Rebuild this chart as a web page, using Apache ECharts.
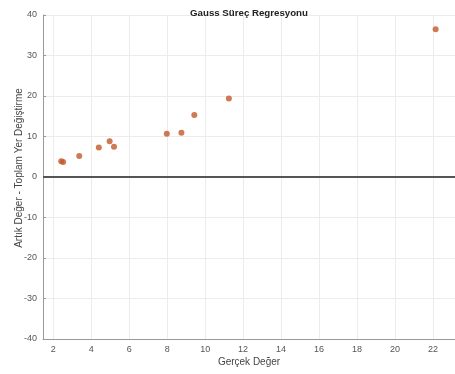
<!DOCTYPE html>
<html>
<head>
<meta charset="utf-8">
<script src="https://cdn.jsdelivr.net/npm/echarts@6/dist/echarts.min.js"></script>
<style>
  html, body { margin: 0; padding: 0; background: #fff; }
  #chart { width: 455px; height: 374px; }
</style>
</head>
<body>
<div id="chart"></div>
<script>
// Actual value vs residual (total displacement)
const actualValues = [2.42, 2.52, 3.37, 4.40, 4.97, 5.20, 7.98, 8.75, 9.43, 11.25, 22.14];
const residualValues = [3.9, 3.7, 5.2, 7.3, 8.8, 7.5, 10.7, 10.9, 15.3, 19.4, 36.5];
const xTicks = [2, 4, 6, 8, 10, 12, 14, 16, 18, 20, 22];
const yTicks = [-40, -30, -20, -10, 0, 10, 20, 30, 40];

const points = actualValues.map((v, i) => [v, residualValues[i]]);

const chart = echarts.init(document.getElementById('chart'));
const font = 'Liberation Sans, Arial, sans-serif';
chart.setOption({
  animation: false,
  title: {
    text: 'Gauss Süreç Regresyonu',
    left: 244, top: 3, textAlign: 'center',
    textStyle: { fontFamily: font, fontSize: 9.7, fontWeight: 'bold', color: '#222' }
  },
  grid: { left: 43, top: 15, right: 0, bottom: 35 },
  xAxis: {
    type: 'value', min: 1.46, max: 23.16,
    name: 'Gerçek Değer', nameLocation: 'middle', nameGap: 18,
    nameMoveOverlap: false,
    nameTextStyle: { fontFamily: font, fontSize: 10, color: '#444' },
    axisLine: { show: true, onZero: false, lineStyle: { color: '#999', width: 1 } },
    axisTick: { show: true, inside: true, length: 3, customValues: xTicks, lineStyle: { color: '#999' } },
    axisLabel: { customValues: xTicks, fontFamily: font, fontSize: 9, color: '#555', margin: 6 },
    splitLine: { show: false }
  },
  yAxis: {
    type: 'value', min: -40, max: 40, interval: 10,
    name: 'Artık Değer - Toplam Yer Değiştirme', nameLocation: 'middle', nameGap: 19,
    nameMoveOverlap: false,
    nameTextStyle: { fontFamily: font, fontSize: 10, color: '#444', padding: [0, 0, 0, 18] },
    axisLine: { show: true, lineStyle: { color: '#999', width: 1 } },
    axisTick: { show: true, inside: true, length: 3, lineStyle: { color: '#999' } },
    axisLabel: { fontFamily: font, fontSize: 9, color: '#555', margin: 6 },
    splitLine: { show: true, lineStyle: { color: '#ececec', width: 1 } }
  },
  series: [
    {
      type: 'scatter',
      data: points,
      symbolSize: 6,
      itemStyle: { color: '#c1592b' },
      z: 5,
      markLine: {
        silent: true, symbol: 'none', animation: false, label: { show: false },
        data: xTicks.map(v => ({ xAxis: v, lineStyle: { color: '#ececec', width: 1, type: 'solid' } }))
          .concat([{ yAxis: 0, lineStyle: { color: '#555', width: 2, type: 'solid' } }])
      }
    }
  ]
});
</script>
</body>
</html>
